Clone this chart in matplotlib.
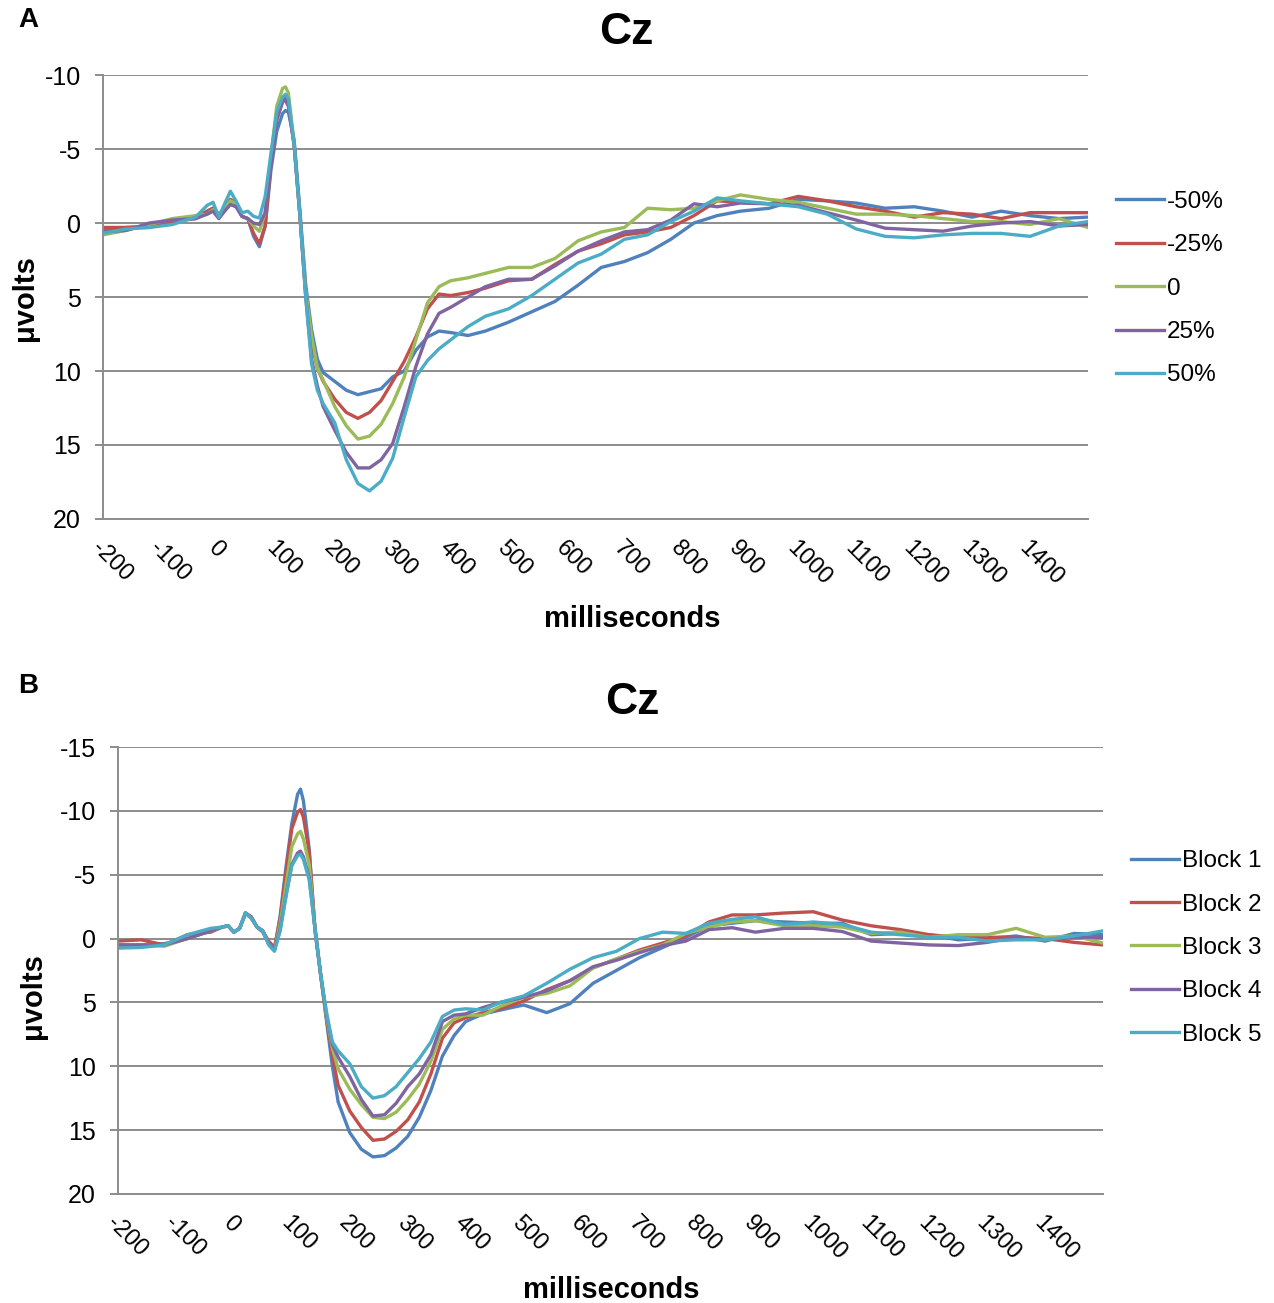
import matplotlib
matplotlib.use("Agg")
import matplotlib.pyplot as plt

plt.rcParams["font.family"] = ["Liberation Sans", "DejaVu Sans"]

time_ms = [-200, -160, -120, -80, -40, -20, -10, 0, 10, 20, 30, 40, 50, 60, 70, 80, 90,
           100, 110, 115, 120, 130, 140, 150, 160, 170, 180, 200, 220, 240, 260, 280,
           300, 320, 340, 360, 380, 400, 430, 460, 500, 540, 580, 620, 660, 700, 740,
           780, 820, 860, 900, 950, 1000, 1050, 1100, 1150, 1200, 1250, 1300, 1350,
           1400, 1450, 1500]

# panel A: condition averages (microvolts)
cond_labels = ["-50%", "-25%", "0", "25%", "50%"]
neg50 = [0.5, 0.3, 0.2, -0.1, -0.4, -0.8, -1.0, -0.5, -1.0, -1.3, -1.1, -0.45, -0.3, 0.9, 1.6,
         0.2, -3.6, -6.2, -7.4, -7.6, -7.5, -5.6, -0.8, 4.2, 7.2, 9.2, 10.1, 10.7, 11.3, 11.6,
         11.4, 11.2, 10.4, 10.0, 8.6, 7.7, 7.3, 7.4, 7.6, 7.3, 6.7, 6.0, 5.3, 4.2, 3.0, 2.6,
         2.0, 1.1, 0.0, -0.5, -0.8, -1.0, -1.6, -1.5, -1.35, -1.0, -1.1, -0.8, -0.4, -0.8,
         -0.5, -0.3, -0.4]
neg25 = [0.3, 0.3, 0.3, -0.1, -0.3, -0.8, -1.0, -0.6, -1.0, -1.6, -1.35, -0.45, -0.3, 0.7, 1.4,
         0.2, -4.0, -7.0, -8.2, -8.45, -8.1, -5.2, -0.5, 4.8, 8.1, 9.8, 10.7, 11.9, 12.8, 13.2,
         12.8, 12.0, 10.7, 9.35, 7.7, 5.8, 4.8, 4.9, 4.7, 4.4, 3.9, 3.8, 2.8, 1.9, 1.4, 0.8,
         0.6, 0.3, -0.5, -1.5, -1.4, -1.3, -1.8, -1.5, -1.1, -0.8, -0.4, -0.7, -0.6, -0.3,
         -0.7, -0.7, -0.7]
zero = [0.8, 0.5, 0.1, -0.3, -0.5, -0.6, -0.9, -0.6, -1.0, -1.5, -1.3, -0.45, -0.3, 0.2, 0.56,
        -0.7, -4.5, -7.9, -9.1, -9.2, -8.8, -5.4, -0.5, 4.6, 7.6, 9.8, 10.6, 12.4, 13.7, 14.6,
        14.4, 13.6, 12.2, 10.4, 7.9, 5.4, 4.3, 3.9, 3.7, 3.4, 3.0, 3.0, 2.4, 1.2, 0.6, 0.3,
        -1.0, -0.9, -1.0, -1.5, -1.9, -1.6, -1.4, -1.0, -0.6, -0.6, -0.5, -0.3, -0.1, -0.1,
        0.1, -0.3, 0.3]
pos25 = [0.6, 0.5, 0.0, -0.2, -0.3, -0.6, -0.8, -0.3, -0.8, -1.25, -1.1, -0.45, -0.3, 0.0, 0.1,
         -0.7, -4.0, -7.0, -8.2, -8.3, -7.9, -5.3, -0.5, 5.0, 9.2, 11.0, 12.4, 14.0, 15.5, 16.55,
         16.55, 16.0, 14.9, 12.4, 9.7, 7.5, 6.1, 5.7, 5.0, 4.3, 3.8, 3.8, 2.9, 1.9, 1.2, 0.6,
         0.45, -0.2, -1.3, -1.1, -1.35, -1.3, -1.2, -0.7, -0.2, 0.35, 0.45, 0.55, 0.2, 0.0,
         -0.1, 0.2, 0.1]
pos50 = [0.7, 0.4, 0.3, 0.1, -0.4, -1.2, -1.4, -0.4, -1.3, -2.15, -1.46, -0.7, -0.8, -0.45, -0.34,
         -1.8, -4.7, -7.5, -8.5, -8.7, -8.4, -5.3, -0.5, 5.0, 9.5, 11.3, 12.2, 13.5, 16.0, 17.6,
         18.1, 17.45, 15.9, 13.1, 10.4, 9.3, 8.5, 7.9, 7.0, 6.3, 5.8, 4.9, 3.8, 2.7, 2.1, 1.1,
         0.8, -0.1, -0.8, -1.7, -1.5, -1.3, -1.1, -0.6, 0.4, 0.9, 1.0, 0.8, 0.7, 0.7,
         0.9, 0.2, -0.1]

# panel B: block averages (microvolts)
block_labels = ["Block 1", "Block 2", "Block 3", "Block 4", "Block 5"]
block1 = [0.5, 0.5, 0.4, 0.0, -0.6, -0.9, -1.0, -0.5, -0.8, -2.0, -1.7, -0.9, -0.5, 0.4, 0.9,
          -1.8, -5.6, -9.0, -11.3, -11.7, -10.8, -7.0, -0.6, 2.9, 6.5, 10.0, 12.8, 15.2, 16.5,
          17.1, 17.0, 16.4, 15.5, 14.0, 11.9, 9.2, 7.6, 6.5, 5.9, 5.6, 5.2, 5.8, 5.1, 3.5, 2.5,
          1.5, 0.7, -0.1, -1.0, -1.2, -1.4, -1.3, -1.2, -1.2, -0.3, -0.4, -0.3, 0.1, 0.0,
          -0.2, 0.2, -0.4, -0.3]
block2 = [0.2, 0.1, 0.5, -0.3, -0.5, -0.9, -1.0, -0.5, -0.8, -2.0, -1.7, -0.9, -0.6, 0.2, 0.7,
          -1.6, -5.2, -8.6, -9.9, -10.1, -9.5, -6.8, -0.8, 2.9, 6.3, 9.2, 11.5, 13.5, 14.8,
          15.8, 15.7, 15.1, 14.2, 12.8, 10.6, 7.8, 6.6, 6.2, 5.8, 5.5, 4.9, 4.0, 3.3, 2.3, 1.6,
          0.9, 0.35, -0.2, -1.3, -1.85, -1.85, -2.0, -2.1, -1.45, -1.0, -0.7, -0.3, -0.1, -0.1,
          -0.1, 0.0, 0.3, 0.5]
block3 = [0.6, 0.5, 0.6, 0.0, -0.6, -0.9, -1.0, -0.5, -0.8, -2.0, -1.6, -0.9, -0.6, 0.4, 0.9,
          -1.2, -4.2, -7.2, -8.2, -8.4, -7.8, -5.8, -0.8, 2.9, 6.2, 8.6, 10.2, 11.8, 13.0, 14.0,
          14.1, 13.6, 12.6, 11.4, 9.6, 7.1, 6.3, 6.0, 6.0, 5.3, 4.6, 4.3, 3.7, 2.3, 1.6, 1.0,
          0.5, -0.4, -0.9, -1.3, -1.4, -1.0, -1.0, -0.9, -0.4, -0.5, -0.1, -0.3, -0.3, -0.8,
          -0.1, -0.2, 0.35]
block4 = [0.5, 0.5, 0.5, 0.0, -0.6, -0.9, -1.0, -0.5, -0.8, -2.0, -1.6, -0.9, -0.6, 0.4, 0.9,
          -0.8, -3.4, -5.8, -6.7, -6.85, -6.4, -4.8, -0.8, 2.9, 6.0, 8.3, 9.3, 10.8, 12.6, 13.9,
          13.8, 12.9, 11.6, 10.6, 9.1, 6.5, 6.0, 5.9, 5.4, 5.0, 4.6, 4.1, 3.3, 2.2, 1.7, 1.1,
          0.55, 0.2, -0.7, -0.85, -0.5, -0.8, -0.8, -0.55, 0.2, 0.35, 0.5, 0.55, 0.3, -0.1,
          0.1, -0.1, -0.1]
block5 = [0.75, 0.7, 0.5, -0.3, -0.8, -0.9, -1.0, -0.5, -0.8, -2.0, -1.6, -0.9, -0.6, 0.5, 1.0,
          -0.6, -3.3, -5.7, -6.5, -6.6, -6.2, -4.6, -0.8, 2.9, 5.8, 8.1, 8.8, 9.8, 11.6, 12.5,
          12.3, 11.6, 10.5, 9.4, 8.1, 6.1, 5.6, 5.5, 5.6, 5.0, 4.5, 3.5, 2.4, 1.5, 1.0, 0.0,
          -0.5, -0.4, -1.2, -1.5, -1.7, -1.1, -1.3, -1.1, -0.5, -0.3, -0.1, -0.1, 0.2, 0.1,
          0.1, -0.2, -0.6]

x_ticks = list(range(-200, 1500, 100))
colors = ["#4F81BD", "#C0504D", "#9BBB59", "#8064A2", "#4BACC6"]
grid_col = "#8c8c8c"


def draw_panel(ax, series, labels, ylim, yticks, legend_anchor):
    for vals, lab, col in zip(series, labels, colors):
        ax.plot(time_ms, vals, color=col, lw=2.4, label=lab)
    ax.set_xlim(-200, 1500)
    ax.set_ylim(*ylim)
    ax.set_yticks(yticks)
    ax.set_yticklabels([str(v) for v in yticks], fontsize=18)
    ax.yaxis.grid(True, color=grid_col, lw=1.4)
    ax.set_axisbelow(True)
    ax.set_xticks(x_ticks)
    ax.set_xticklabels([str(v) for v in x_ticks], rotation=-45, ha="left", va="top",
                       rotation_mode="anchor", fontsize=17)
    ax.tick_params(axis="x", length=0, pad=13)
    ax.tick_params(axis="y", length=6, color=grid_col, width=1.4, pad=10)
    for s in ["top", "right"]:
        ax.spines[s].set_visible(False)
    for s in ["left", "bottom"]:
        ax.spines[s].set_color(grid_col)
        ax.spines[s].set_linewidth(1.4)
    ax.legend(loc="upper left", bbox_to_anchor=legend_anchor, bbox_transform=fig.transFigure,
              frameon=False, fontsize=17.5, handlelength=2.0, handletextpad=0.1,
              labelspacing=0.88, borderaxespad=0)


fig = plt.figure(figsize=(12.74, 13.03), dpi=100)

ax_a = fig.add_axes([0.0808, 0.6017, 0.7732, 0.3407])
draw_panel(ax_a, [neg50, neg25, zero, pos25, pos50], cond_labels,
           (20, -10), [-10, -5, 0, 5, 10, 15, 20], (0.868, 0.861))

ax_b = fig.add_axes([0.0926, 0.0837, 0.7732, 0.343])
draw_panel(ax_b, [block1, block2, block3, block4, block5], block_labels,
           (20, -15), [-15, -10, -5, 0, 5, 10, 15, 20], (0.880, 0.355))

# titles, axis names and panel letters
fig.text(626 / 1274, 1 - 33 / 1303, "Cz", fontsize=32, fontweight="bold", ha="center", va="center")
fig.text(632 / 1274, 1 - 703 / 1303, "Cz", fontsize=32, fontweight="bold", ha="center", va="center")
fig.text(632 / 1274, 1 - 619 / 1303, "milliseconds", fontsize=21, fontweight="bold", ha="center", va="center")
fig.text(611 / 1274, 1 - 1290 / 1303, "milliseconds", fontsize=21, fontweight="bold", ha="center", va="center")
fig.text(25 / 1274, 1 - 298 / 1303, "μvolts", fontsize=21, fontweight="bold", rotation=90, ha="center", va="center")
fig.text(33 / 1274, 1 - 996 / 1303, "μvolts", fontsize=21, fontweight="bold", rotation=90, ha="center", va="center")
fig.text(28 / 1274, 1 - 20 / 1303, "A", fontsize=20, fontweight="bold", ha="center", va="center")
fig.text(28 / 1274, 1 - 686 / 1303, "B", fontsize=20, fontweight="bold", ha="center", va="center")

fig.savefig("out.png", dpi=100)
